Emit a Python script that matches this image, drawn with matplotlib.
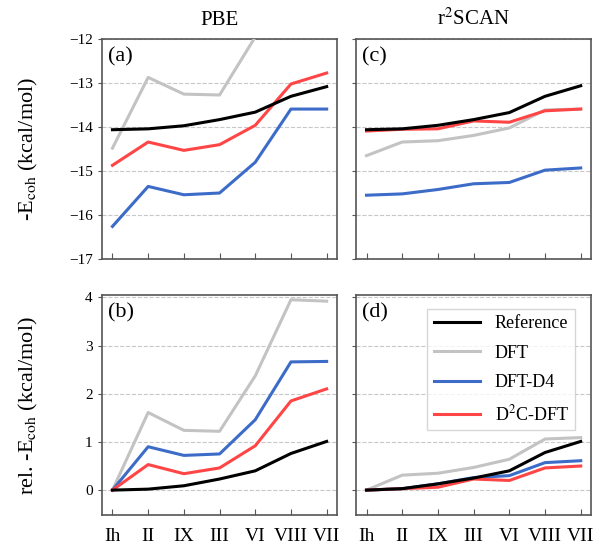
import matplotlib.pyplot as plt

plt.rcParams['font.family'] = ['Liberation Serif', 'DejaVu Serif']
plt.rcParams['mathtext.fontset'] = 'stix'

phases = ['Ih', 'II', 'IX', 'III', 'VI', 'VIII', 'VII']
labels = ['Reference', 'DFT', 'DFT-D4', 'D$^2$C-DFT']
colors = ['black', '#c3c3c3', '#3c6cc8', '#ff4545']

# -E_coh (kcal/mol), PBE panel (a)
pbe_ref = [-14.06, -14.04, -13.97, -13.83, -13.66, -13.30, -13.08]
pbe_dft = [-14.48, -12.87, -13.25, -13.27, -11.95, -10.53, -10.56]
pbe_d4 = [-16.26, -15.35, -15.54, -15.50, -14.80, -13.59, -13.59]
pbe_d2c = [-14.87, -14.34, -14.53, -14.40, -13.96, -13.02, -12.77]

# -E_coh (kcal/mol), r2SCAN panel (c)
scan_ref = [-14.06, -14.04, -13.96, -13.83, -13.67, -13.30, -13.06]
scan_dft = [-14.65, -14.34, -14.31, -14.19, -14.02, -13.61, -13.59]
scan_d4 = [-15.55, -15.52, -15.42, -15.29, -15.26, -14.98, -14.93]
scan_d2c = [-14.09, -14.05, -14.04, -13.86, -13.89, -13.63, -13.59]

# relative -E_coh, PBE panel (b)
pbe_rel_ref = [0.0, 0.02, 0.09, 0.23, 0.40, 0.76, 1.01]
pbe_rel_dft = [0.0, 1.61, 1.24, 1.22, 2.37, 3.95, 3.92]
pbe_rel_d4 = [0.0, 0.90, 0.72, 0.75, 1.46, 2.66, 2.67]
pbe_rel_d2c = [0.0, 0.53, 0.34, 0.46, 0.92, 1.85, 2.10]

# relative -E_coh, r2SCAN panel (d)
scan_rel_ref = [0.0, 0.03, 0.13, 0.25, 0.40, 0.78, 1.01]
scan_rel_dft = [0.0, 0.31, 0.35, 0.47, 0.64, 1.06, 1.09]
scan_rel_d4 = [0.0, 0.03, 0.13, 0.26, 0.30, 0.57, 0.61]
scan_rel_d2c = [0.0, 0.03, 0.06, 0.23, 0.20, 0.46, 0.50]

panels = [
    ('(a)', [pbe_ref, pbe_dft, pbe_d4, pbe_d2c]),
    ('(c)', [scan_ref, scan_dft, scan_d4, scan_d2c]),
    ('(b)', [pbe_rel_ref, pbe_rel_dft, pbe_rel_d4, pbe_rel_d2c]),
    ('(d)', [scan_rel_ref, scan_rel_dft, scan_rel_d4, scan_rel_d2c]),
]

fig = plt.figure(figsize=(5.95, 5.44), dpi=100)
lefts = [0.171, 0.598]
width = 0.396
height = 0.404
boxes = [(lefts[0], 0.524), (lefts[1], 0.524), (lefts[0], 0.053), (lefts[1], 0.053)]

x = list(range(len(phases)))
axes = []
for i, (tag, series) in enumerate(panels):
    ax = fig.add_axes([boxes[i][0], boxes[i][1], width, height])
    axes.append(ax)
    # grey/blue/red first, reference on top
    for k in [1, 2, 3, 0]:
        ax.plot(x, series[k], color=colors[k], lw=2.2, label=labels[k],
                zorder=3 + (k == 0))
    ax.set_xlim(-0.3, 6.3)
    if i < 2:
        ax.set_ylim(-17, -12)
        ax.set_yticks([-17, -16, -15, -14, -13, -12])
    else:
        ax.set_ylim(-0.52, 4.04)
        ax.set_yticks([0, 1, 2, 3, 4])
    ax.set_xticks(x)
    ax.yaxis.grid(True, ls='--', color='#c8c8c8', lw=0.8)
    ax.set_axisbelow(True)
    for sp in ax.spines.values():
        sp.set_color('#555555')
        sp.set_linewidth(1.2)
    ax.tick_params(axis='x', direction='in', length=4, color='#555555', labelsize=14, pad=9)
    ax.tick_params(axis='y', direction='out', length=3, color='#555555', labelsize=11)
    if i < 2:
        ax.set_xticklabels([])
    else:
        ax.set_xticklabels(phases)
    if i % 2 == 1:
        ax.set_yticklabels([])
    ax.text(0.025, 0.965, tag, transform=ax.transAxes, ha='left', va='top', fontsize=16)

axes[0].set_title('PBE', fontsize=15, pad=10)
axes[1].set_title('r$^2$SCAN', fontsize=15, pad=10)
axes[0].set_ylabel('-E$_{\\mathrm{coh}}$ (kcal/mol)', fontsize=16)
axes[2].set_ylabel('rel. -E$_{\\mathrm{coh}}$ (kcal/mol)', fontsize=16)
axes[0].yaxis.set_label_coords(-0.26, 0.5)
axes[2].yaxis.set_label_coords(-0.26, 0.5)

h, l = axes[3].get_legend_handles_labels()
idx = [l.index(s) for s in labels]
axes[3].legend([h[j] for j in idx], [l[j] for j in idx], loc='upper right',
               fontsize=13, frameon=True, fancybox=False, edgecolor='#cccccc',
               handlelength=2.6, borderpad=0.35, labelspacing=0.7,
               bbox_to_anchor=(0.97, 0.98))

fig.savefig('out.png', dpi=100)
